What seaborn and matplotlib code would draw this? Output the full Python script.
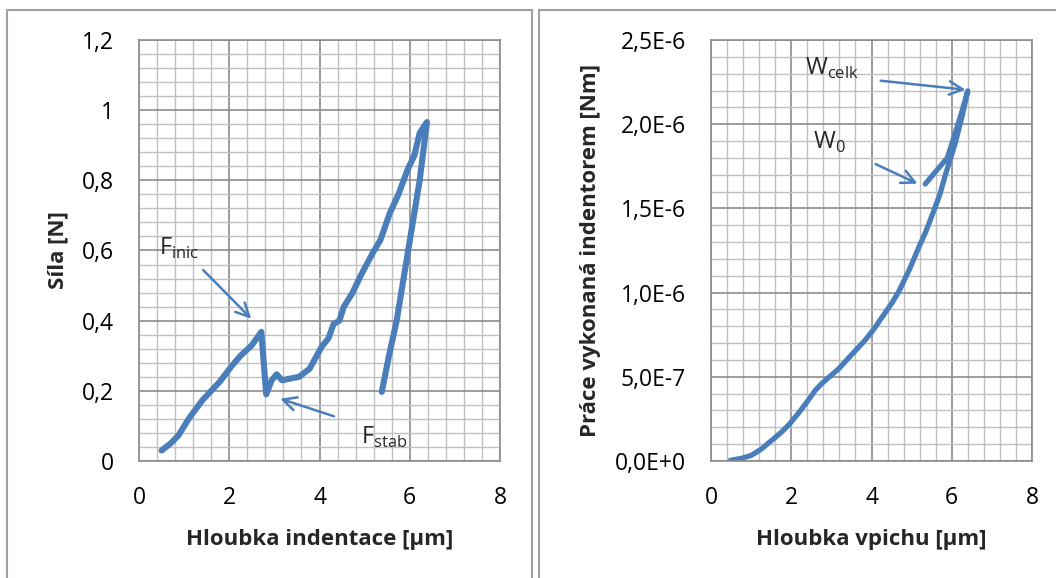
import numpy as np
import pandas as pd
import seaborn as sns
import matplotlib
matplotlib.use("Agg")
import matplotlib.pyplot as plt
from matplotlib.patches import Rectangle
from matplotlib.ticker import MultipleLocator

# ---- data: left chart (force vs indentation depth) ----
depth_force = [0.50, 0.70, 0.88, 1.10, 1.30, 1.41, 1.60, 1.79, 2.05, 2.25, 2.50, 2.71,
               2.82, 2.94, 3.05, 3.17, 3.35, 3.55, 3.78, 4.05, 4.20, 4.31, 4.44, 4.54,
               4.73, 4.92, 5.18, 5.35, 5.56, 5.75, 5.95, 6.10, 6.22, 6.38,
               6.22, 5.96, 5.71, 5.54, 5.38]
force = [0.03, 0.05, 0.074, 0.12, 0.155, 0.174, 0.20, 0.226, 0.27, 0.30, 0.33, 0.368,
         0.19, 0.23, 0.247, 0.23, 0.235, 0.240, 0.263, 0.326, 0.35, 0.39, 0.40, 0.44,
         0.479, 0.53, 0.593, 0.63, 0.707, 0.76, 0.83, 0.87, 0.935, 0.966,
         0.80, 0.596, 0.40, 0.30, 0.197]

# ---- data: right chart (work vs depth) ----
depth_work = [0.48, 0.75, 1.00, 1.25, 1.50, 1.75, 1.96, 2.20, 2.42, 2.60, 2.76,
              3.00, 3.18, 3.50, 3.85, 4.05, 4.26, 4.50, 4.68, 4.95, 5.18, 5.35,
              5.52, 5.70, 5.85, 6.00, 6.10, 6.25, 6.40,
              6.21, 5.89, 5.64, 5.34]
work = [0.004e-6, 0.015e-6, 0.033e-6, 0.07e-6, 0.12e-6, 0.17e-6, 0.22e-6,
        0.29e-6, 0.36e-6, 0.42e-6, 0.46e-6, 0.51e-6, 0.547e-6, 0.63e-6,
        0.72e-6, 0.78e-6, 0.853e-6, 0.935e-6, 1.006e-6, 1.14e-6, 1.27e-6,
        1.36e-6, 1.465e-6, 1.58e-6, 1.706e-6, 1.82e-6, 1.90e-6, 2.04e-6,
        2.198e-6,
        2.04e-6, 1.80e-6, 1.73e-6, 1.645e-6]

x_ticks = [0, 2, 4, 6, 8]
left_yticks = [0, 0.2, 0.4, 0.6, 0.8, 1.0, 1.2]
left_ylabels = ["0", "0,2", "0,4", "0,6", "0,8", "1", "1,2"]
right_yticks = [0, 0.5e-6, 1.0e-6, 1.5e-6, 2.0e-6, 2.5e-6]
right_ylabels = ["0,0E+0", "5,0E-7", "1,0E-6", "1,5E-6", "2,0E-6", "2,5E-6"]

sns.set_theme(style="white")
plt.rcParams['font.family'] = ['Open Sans', 'DejaVu Sans']

W, H = 1056, 578
fig = plt.figure(figsize=(W / 100, H / 100), dpi=100)

def box(x0, y0, x1, y1):
    return [x0 / W, 1 - y1 / H, (x1 - x0) / W, (y1 - y0) / H]

LINE = "#4A7EBB"
MAJ = "#8C8C8C"
MIN = "#C0C0C0"
FRAME = "#A0A0A0"

# panel frames
fig.patches.append(Rectangle((7 / W, -0.05), (532 - 7) / W, 1.05 - 10 / H,
                             transform=fig.transFigure, fill=False,
                             edgecolor=FRAME, lw=1.5))
fig.patches.append(Rectangle((539 / W, -0.05), 0.6, 1.05 - 10 / H,
                             transform=fig.transFigure, fill=False,
                             edgecolor=FRAME, lw=1.5))

axL = fig.add_axes(box(139, 40, 500, 461))
axR = fig.add_axes(box(711, 40, 1032, 461))

df_l = pd.DataFrame({"x": depth_force, "y": force})
df_r = pd.DataFrame({"x": depth_work, "y": work})
sns.lineplot(data=df_l, x="x", y="y", sort=False, estimator=None, ax=axL,
             color=LINE, lw=4.4, solid_capstyle="round", solid_joinstyle="round")
sns.lineplot(data=df_r, x="x", y="y", sort=False, estimator=None, ax=axR,
             color=LINE, lw=3.8, solid_capstyle="round", solid_joinstyle="round")

def style(ax, ymax, ymaj, ymin, yticks, ylabels, xlabel, ylabel):
    ax.set_xlim(0, 8)
    ax.set_ylim(0, ymax)
    ax.xaxis.set_major_locator(MultipleLocator(2))
    ax.xaxis.set_minor_locator(MultipleLocator(0.4))
    ax.yaxis.set_major_locator(MultipleLocator(ymaj))
    ax.yaxis.set_minor_locator(MultipleLocator(ymin))
    ax.set_xticks(x_ticks)
    ax.set_xticklabels([str(v) for v in x_ticks])
    ax.set_yticks(yticks)
    ax.set_yticklabels(ylabels)
    ax.grid(which="minor", color=MIN, lw=1.0)
    ax.grid(which="major", color=MAJ, lw=1.2)
    ax.set_axisbelow(True)
    for s in ax.spines.values():
        s.set_color(MAJ)
        s.set_linewidth(1.2)
    ax.tick_params(which="both", length=0, labelsize=16.5, colors="black")
    ax.tick_params(axis="x", pad=18)
    ax.tick_params(axis="y", pad=18)
    ax.set_xlabel(xlabel, fontsize=16, fontweight="bold", labelpad=14)
    ax.set_ylabel(ylabel, fontsize=16, fontweight="bold", labelpad=10)

style(axL, 1.2, 0.2, 0.04, left_yticks, left_ylabels,
      "Hloubka indentace [μm]", "Síla [N]")
style(axR, 2.5e-6, 0.5e-6, 1e-7, right_yticks, right_ylabels,
      "Hloubka vpichu [μm]", "Práce vykonaná indentorem [Nm]")

arrow = dict(arrowstyle="->", color=LINE, lw=1.8, mutation_scale=24)

axL.annotate("", xy=(2.53, 0.40), xytext=(1.38, 0.55), arrowprops=arrow)
axL.annotate("", xy=(3.07, 0.18), xytext=(4.38, 0.125), arrowprops=arrow)
axL.text(0.44, 0.607, r"F$_{\mathregular{inic}}$", fontsize=17, va="center")
axL.text(4.93, 0.068, r"F$_{\mathregular{stab}}$", fontsize=17, va="center")

axR.annotate("", xy=(6.41, 2.203e-6), xytext=(4.16, 2.26e-6), arrowprops=arrow)
axR.annotate("", xy=(5.21, 1.64e-6), xytext=(4.04, 1.77e-6), arrowprops=arrow)
axR.text(2.35, 2.33e-6, r"W$_{\mathregular{celk}}$", fontsize=17, va="center")
axR.text(2.55, 1.89e-6, r"W$_{\mathregular{0}}$", fontsize=17, va="center")

fig.savefig("out.png", dpi=100)
